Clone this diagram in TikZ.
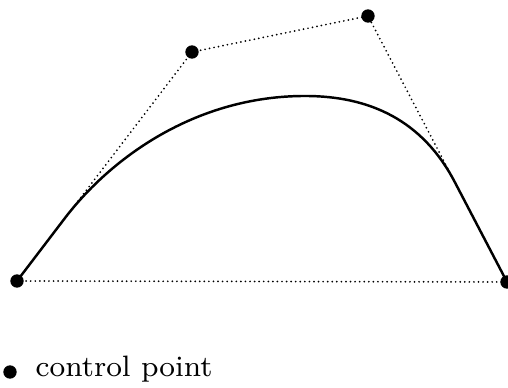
\documentclass[tikz,border=0pt]{standalone}
\begin{document}
\begin{tikzpicture}[
    ctrl/.style={circle, fill=black, inner sep=0pt, minimum size=3.8pt},
    polygon/.style={line width=0.55pt, line cap=round, dash pattern=on 0pt off 1.3pt},
    curve/.style={line width=0.7pt}]
    \useasboundingbox (0,0) rectangle (5.08,3.88);

    \node[ctrl] (p0) at (0.17,1.07) {};
    \node[ctrl] (p1) at (1.92,3.36) {};
    \node[ctrl] (p2) at (3.68,3.72) {};
    \node[ctrl] (p3) at (5.07,1.06) {};

    \draw[polygon] (p0.center) -- (p1.center) -- (p2.center) -- (p3.center);
    \draw[polygon] (p0.center) -- (p3.center);

    % the curve runs along the outer edges of the polygon near its ends
    \coordinate (leave) at (0.65,1.70);
    \coordinate (top) at (3.05,2.92);
    \coordinate (join) at (4.55,2.055);
    \draw[curve, line join=round] (p0.center) -- (leave)
        .. controls (1.105,2.294) and (1.95,2.92) .. (top)
        .. controls (3.70,2.92) and (4.227,2.676) .. (join) -- (p3.center);

    \node[ctrl] (key) at (0.10,0.16) {};
    \node[anchor=base west, inner sep=0pt, font=\fontsize{8.4}{10}\selectfont] (keytext) at (0.35,0.11) {control point};
\end{tikzpicture}
\end{document}
